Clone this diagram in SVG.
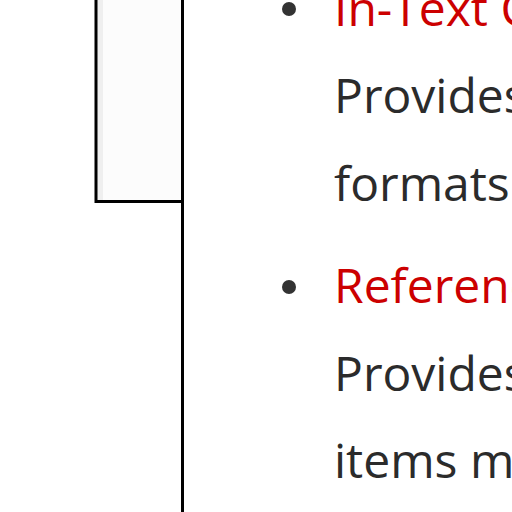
<svg xmlns="http://www.w3.org/2000/svg" width="512" height="512" viewBox="0 0 512 512">
<style>
.t{font-family:"Open Sans","Noto Sans","DejaVu Sans",sans-serif;font-size:48px}
.red{fill:#cc0000}
.dark{fill:#2b2b2b}
.bul{fill:#333333}
</style>
<rect width="512" height="512" fill="#ffffff"/>
<g id="panel">
<rect x="96" y="-10" width="86" height="211" fill="#fcfcfc"/>
<rect x="97" y="-10" width="6" height="211" fill="#efefef"/>
<path d="M96,-10 V201.5 H182" fill="none" stroke="#000" stroke-width="3"/>
</g>
<g id="connectors">
<line x1="182.5" y1="-10" x2="182.5" y2="520" stroke="#000" stroke-width="3"/>
</g>
<g id="item1">
<circle class="bul" cx="289" cy="9" r="7"/>
<text class="t red" x="334" y="26">In-Text C</text>
<text class="t dark" x="334" y="113">Provides</text>
<text class="t dark" x="334" y="201">formats</text>
</g>
<g id="item2">
<circle class="bul" cx="289" cy="287" r="7"/>
<text class="t red" x="334" y="303">Referenc</text>
<text class="t dark" x="334" y="391">Provides</text>
<text class="t dark" x="334" y="478">items m</text>
</g>
</svg>
